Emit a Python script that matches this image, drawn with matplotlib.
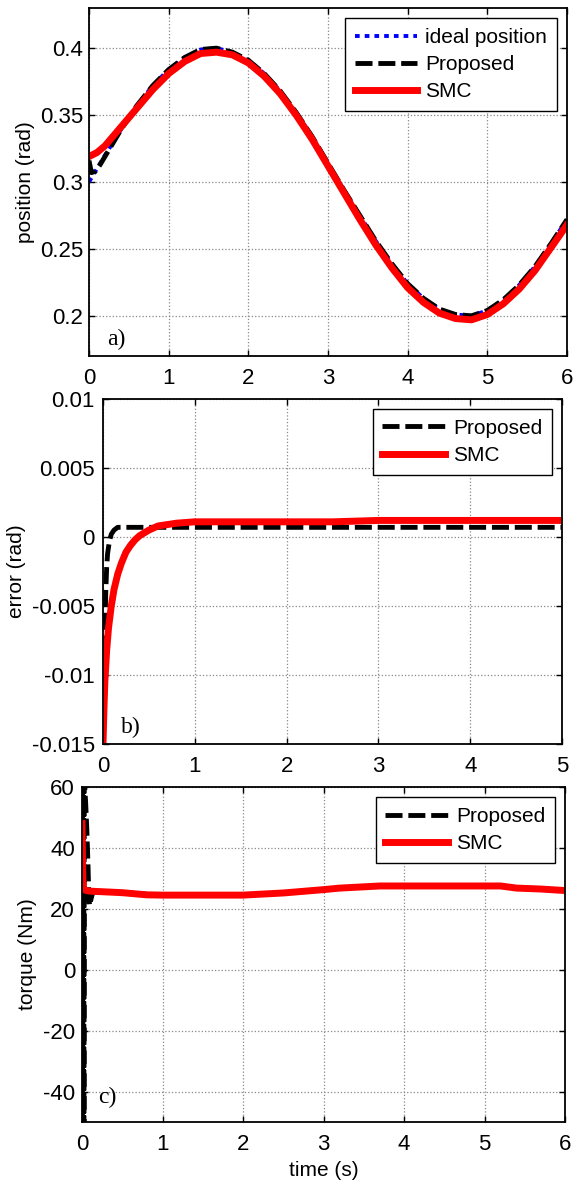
import numpy as np
import matplotlib.pyplot as plt

# ---- panel a: position ----
t_pos = [0.0, 0.2, 0.4, 0.6, 0.8, 1.0, 1.2, 1.4, 1.6, 1.8, 2.0, 2.2, 2.4, 2.6, 2.8, 3.0,
         3.2, 3.4, 3.6, 3.8, 4.0, 4.2, 4.4, 4.6, 4.8, 5.0, 5.2, 5.4, 5.6, 5.8, 6.0]
ideal_pos = [0.300, 0.320, 0.339, 0.357, 0.372, 0.384, 0.393, 0.399, 0.400, 0.397, 0.391,
             0.381, 0.368, 0.352, 0.334, 0.314, 0.294, 0.275, 0.256, 0.239, 0.224, 0.213,
             0.205, 0.201, 0.200, 0.204, 0.212, 0.223, 0.237, 0.254, 0.272]
t_prop_pos = [0.0, 0.03, 0.08, 0.14, 0.2, 0.3, 0.4, 0.6, 0.8, 1.0, 1.2, 1.4, 1.6, 1.8, 2.0,
              2.2, 2.4, 2.6, 2.8, 3.0, 3.2, 3.4, 3.6, 3.8, 4.0, 4.2, 4.4, 4.6, 4.8, 5.0,
              5.2, 5.4, 5.6, 5.8, 6.0]
prop_pos = [0.316, 0.307, 0.308, 0.313, 0.319, 0.329, 0.339, 0.357, 0.372, 0.384, 0.393,
            0.399, 0.400, 0.397, 0.391, 0.381, 0.368, 0.352, 0.334, 0.314, 0.294, 0.275,
            0.256, 0.239, 0.224, 0.213, 0.205, 0.201, 0.200, 0.204, 0.212, 0.223, 0.237,
            0.254, 0.272]
t_smc_pos = [0.0, 0.1, 0.2, 0.3, 0.4, 0.5, 0.6, 0.8, 1.0, 1.2, 1.4, 1.6, 1.8, 2.0, 2.2,
             2.4, 2.6, 2.8, 3.0, 3.2, 3.4, 3.6, 3.8, 4.0, 4.2, 4.4, 4.6, 4.8, 5.0, 5.2,
             5.4, 5.6, 5.8, 6.0]
smc_pos = [0.319, 0.322, 0.327, 0.334, 0.341, 0.348, 0.355, 0.369, 0.381, 0.390, 0.396,
           0.397, 0.395, 0.389, 0.379, 0.366, 0.350, 0.332, 0.312, 0.292, 0.272, 0.253,
           0.236, 0.221, 0.210, 0.202, 0.198, 0.197, 0.201, 0.209, 0.220, 0.234, 0.251,
           0.268]

# ---- panel b: error ----
t_prop_err = [0.0, 0.01, 0.02, 0.03, 0.04, 0.05, 0.07, 0.09, 0.12, 0.16, 0.25, 5.0]
prop_err = [-0.015, -0.011, -0.007, -0.004, -0.0022, -0.0012, -0.0003, 0.0002, 0.0005,
            0.0007, 0.0007, 0.0007]
t_smc_err = [0.0, 0.01, 0.02, 0.04, 0.06, 0.09, 0.12, 0.16, 0.2, 0.25, 0.3, 0.35, 0.4,
             0.5, 0.6, 0.7, 0.8, 1.0, 1.3, 1.6, 2.0, 2.5, 3.0, 3.5, 4.0, 4.5, 5.0]
smc_err = [-0.0150, -0.0125, -0.0105, -0.0082, -0.0066, -0.0050, -0.0038, -0.0027,
           -0.0019, -0.0011, -0.0006, -0.0002, 0.0001, 0.0005, 0.0008, 0.0009, 0.0010,
           0.0011, 0.0011, 0.0011, 0.0011, 0.0011, 0.0012, 0.0012, 0.0012, 0.0012, 0.0012]

# ---- panel c: torque (Proposed chatters hard right after t=0) ----
t_prop_tq = [0.0, 0.002, 0.004, 0.006, 0.008, 0.010, 0.012, 0.014, 0.016, 0.018, 0.020,
             0.022, 0.024, 0.026, 0.03, 0.045, 0.06, 0.075, 0.085, 0.095, 0.11, 0.13,
             0.16, 0.2, 0.5, 1.0, 2.0, 2.5, 3.0, 3.2, 3.7, 5.2, 5.5, 6.0]
prop_tq = [-55, 65, -55, 65, -55, 65, -55, 65, -55, 65, -55, 65, -55, 65, 62, 55, 46, 34,
           24, 21, 23, 25, 25.5, 25.5, 25.3, 24.5, 24.5, 25.2, 26.3, 26.8, 27.5, 27.5,
           26.7, 26.2]
t_smc_tq = [0.0, 0.01, 0.02, 0.05, 0.1, 0.5, 0.8, 1.0, 2.0, 2.5, 3.0, 3.2, 3.7, 4.5, 5.2,
            5.4, 5.7, 6.0]
smc_tq = [48, 30, 26.5, 26, 25.8, 25.3, 24.6, 24.5, 24.5, 25.2, 26.3, 26.8, 27.5, 27.5,
          27.5, 26.8, 26.5, 26.0]

plt.rcParams['font.family'] = ['Liberation Sans', 'DejaVu Sans']
plt.rcParams['axes.unicode_minus'] = False
FS = 15
TFS = 16

fig = plt.figure(figsize=(5.74, 11.82), dpi=100)
W, H = 574, 1182


def make_axes(l, r, top, bot):
    return fig.add_axes([l / W, 1 - bot / H, (r - l) / W, (bot - top) / H])


def style(ax, ypad=5):
    ax.grid(True, linestyle=':', color='#888888', linewidth=0.9)
    ax.tick_params(direction='in', top=True, right=True, labelsize=TFS, length=4,
                   width=1)
    ax.tick_params(axis='x', pad=9)
    ax.tick_params(axis='y', pad=ypad)
    for s in ax.spines.values():
        s.set_linewidth(1.3)


def add_legend(ax):
    leg = ax.legend(loc='upper right', fontsize=FS, fancybox=False, edgecolor='black',
                    framealpha=1, handlelength=3.0, borderaxespad=0.5, labelspacing=0.4,
                    handletextpad=0.4, borderpad=0.45)
    leg.get_frame().set_linewidth(1)


DASH = (3.5, 1.2)

ax1 = make_axes(89, 567, 8, 356)
ax1.plot(t_pos, ideal_pos, color='blue', lw=2.8, dashes=(1.2, 1.3), label='ideal position')
ax1.plot(t_prop_pos, prop_pos, color='black', lw=3.5, dashes=DASH, label='Proposed')
ax1.plot(t_smc_pos, smc_pos, '-', color='red', lw=5, label='SMC')
ax1.set_xlim(0, 6)
ax1.set_ylim(0.17, 0.43)
ax1.set_yticks([0.2, 0.25, 0.3, 0.35, 0.4])
ax1.set_yticklabels(['0.2', '0.25', '0.3', '0.35', '0.4'])
ax1.set_ylabel('position (rad)', fontsize=FS)
ax1.text(0.23, 0.178, 'a)', family='Liberation Serif', fontsize=FS + 2)
style(ax1, ypad=4)
add_legend(ax1)

ax2 = make_axes(103, 562, 399, 744)
ax2.plot(t_prop_err, prop_err, color='black', lw=3.5, dashes=DASH, label='Proposed')
ax2.plot(t_smc_err, smc_err, '-', color='red', lw=5, label='SMC')
ax2.set_xlim(0, 5)
ax2.set_ylim(-0.015, 0.01)
ax2.set_yticks([-0.015, -0.01, -0.005, 0, 0.005, 0.01])
ax2.set_yticklabels(['-0.015', '-0.01', '-0.005', '0', '0.005', '0.01'])
ax2.set_ylabel('error (rad)', fontsize=FS)
ax2.text(0.2, -0.0142, 'b)', family='Liberation Serif', fontsize=FS + 2)
style(ax2, ypad=6)
add_legend(ax2)

ax3 = make_axes(82, 565, 787, 1122)
ax3.plot(t_prop_tq, prop_tq, color='black', lw=3.5, dashes=DASH, label='Proposed')
ax3.plot(t_smc_tq, smc_tq, '-', color='red', lw=5, label='SMC')
ax3.set_xlim(0, 6)
ax3.set_ylim(-50, 60)
ax3.set_yticks([-40, -20, 0, 20, 40, 60])
ax3.set_ylabel('torque (Nm)', fontsize=FS)
ax3.set_xlabel('time (s)', fontsize=FS, labelpad=4)
ax3.text(0.2, -43.8, 'c)', family='Liberation Serif', fontsize=FS + 2)
style(ax3, ypad=5)
add_legend(ax3)

fig.savefig('out.png', dpi=100)
